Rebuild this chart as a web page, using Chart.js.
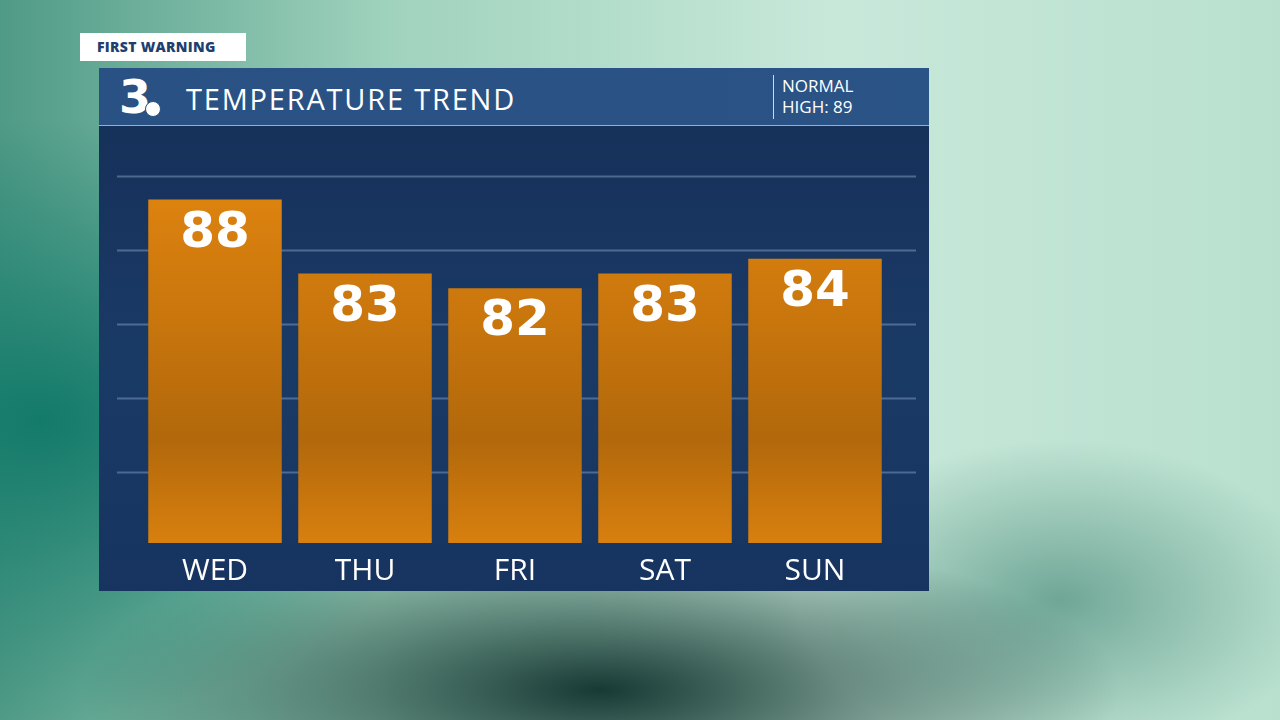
<!DOCTYPE html>
<html lang="en">
<head>
<meta charset="UTF-8" />
<title>Temperature Trend</title>
<script src="https://cdn.jsdelivr.net/npm/chart.js"></script>
<style>
  html, body { margin: 0; width: 1280px; height: 720px; overflow: hidden; font-family: "Open Sans", sans-serif; }
  body {
    background:
      radial-gradient(ellipse 420px 300px at 40px 420px, #137a6a 0%, rgba(19,122,106,0) 100%),
      radial-gradient(ellipse 520px 160px at 600px 690px, #173a34 0%, rgba(23,58,52,0) 100%),
      radial-gradient(ellipse 260px 160px at 1060px 600px, #6fa696 0%, rgba(111,166,150,0) 100%),
      linear-gradient(90deg, #4f9a86 0%, #9fd2bd 30%, #c8e8da 65%, #b9e0cf 100%);
  }
  .tag { position: absolute; left: 80px; top: 33px; width: 166px; height: 28px; background: #fff;
         color: #1f3f6e; font-weight: 800; font-size: 14px; line-height: 28px; padding-left: 17px; box-sizing: border-box; letter-spacing: 0.3px; }
  .header { position: absolute; left: 99px; top: 68px; width: 830px; height: 58px;
            background: linear-gradient(90deg, #2a5183, #2a5386); border-bottom: 1px solid #8ec08a; box-sizing: border-box; }
  .logo { position: absolute; left: 20px; top: 0px; color: #fff; font-weight: 900; font-size: 46px; line-height: 58px; font-family: "DejaVu Sans", sans-serif; }
  .eye { position: absolute; left: 46px; top: 33px; width: 14px; height: 14px; border-radius: 50%; background: #fff; border: 1px solid #2a5183; }
  .title { position: absolute; left: 87px; top: 0; color: #fff; font-size: 29px; line-height: 62px; letter-spacing: 1.8px; }
  .normal { position: absolute; left: 674px; top: 7px; height: 44px; border-left: 1px solid #cfd8e6; padding-left: 8px;
            color: #fff; font-size: 17px; line-height: 21px; }
  .panel { position: absolute; left: 99px; top: 126px; width: 830px; height: 465px;
           background: linear-gradient(180deg, #16315a 0%, #1a3a66 50%, #173460 100%); }
  canvas { position: absolute; left: 0; top: 0; }
</style>
</head>
<body>
  <div class="tag">FIRST WARNING</div>
  <div class="header">
    <div class="logo">3</div><div class="eye"></div>
    <div class="title">TEMPERATURE TREND</div>
    <div class="normal">NORMAL<br/>HIGH: 89</div>
  </div>
  <div class="panel"><canvas id="c" width="830" height="465"></canvas></div>
<script>
const days = ['WED', 'THU', 'FRI', 'SAT', 'SUN'];
const highs = [88, 83, 82, 83, 84];
const gridValues = [69.6, 74.6, 79.6, 84.6, 89.6];

// grid lines spanning wider than the bars
const gridPlugin = {
  id: 'grid',
  beforeDatasetsDraw(chart) {
    const ctx = chart.ctx, y = chart.scales.y;
    ctx.save();
    ctx.strokeStyle = 'rgba(120,150,190,0.55)';
    ctx.lineWidth = 2;
    gridValues.forEach(v => {
      const py = Math.round(y.getPixelForValue(v)) + 0.5;
      ctx.beginPath(); ctx.moveTo(18, py); ctx.lineTo(817, py); ctx.stroke();
    });
    ctx.restore();
  }
};

const valuePlugin = {
  id: 'values',
  afterDatasetsDraw(chart) {
    const ctx = chart.ctx;
    ctx.save();
    ctx.fillStyle = '#fff';
    ctx.font = 'bold 50px "DejaVu Sans", sans-serif';
    ctx.textAlign = 'center';
    ctx.textBaseline = 'middle';
    chart.getDatasetMeta(0).data.forEach((bar, i) => {
      ctx.fillText(highs[i], bar.x, bar.y + 34);
    });
    ctx.restore();
  }
};

function barFill(context) {
  const area = context.chart.chartArea;
  if (!area) return '#d47d10';
  const g = context.chart.ctx.createLinearGradient(0, area.top + 70, 0, area.bottom);
  g.addColorStop(0, '#dc820f');
  g.addColorStop(0.35, '#c9760d');
  g.addColorStop(0.7, '#b2680b');
  g.addColorStop(1, '#d8800f');
  return g;
}

new Chart(document.getElementById('c'), {
  type: 'bar',
  data: {
    labels: days,
    datasets: [{ data: highs, backgroundColor: barFill, borderWidth: 0, barPercentage: 0.89, categoryPercentage: 1 }]
  },
  options: {
    responsive: false,
    animation: false,
    layout: { padding: { left: 41, right: 39, top: 1, bottom: 0 } },
    plugins: { legend: { display: false }, tooltip: { enabled: false } },
    scales: {
      x: {
        grid: { display: false }, border: { display: false },
        afterFit(scale) { scale.height = 48; },
        ticks: { color: '#fff', font: { size: 30, family: '"Open Sans", sans-serif' }, padding: 2 }
      },
      y: {
        display: false, min: 64.8, max: 92.9
      }
    }
  },
  plugins: [gridPlugin, valuePlugin]
});
</script>
</body>
</html>
